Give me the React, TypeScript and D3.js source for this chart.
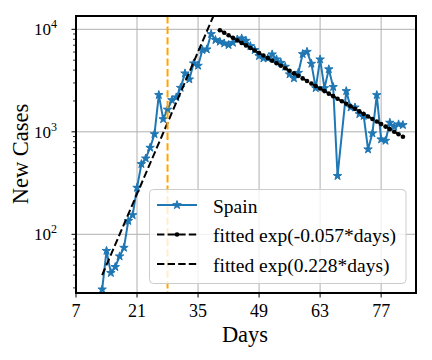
import React from 'react';
import * as d3 from 'd3';

// ---- data ----
const spainDays = [
  13, 14, 15, 16, 17, 18, 19, 20, 21, 22, 23, 24, 25, 26, 27, 28, 29, 30, 31, 32,
  33, 34, 35, 36, 37, 38, 39, 40, 41, 42, 43, 44, 45, 46, 47, 48, 49, 50, 51, 52,
  53, 54, 55, 56, 57, 58, 59, 60, 61, 62, 63, 64, 65, 66, 67, 69, 70, 71, 72, 73,
  74, 75, 76, 77, 78, 79, 80, 81, 82,
];
const spainCases = [
  29, 69, 42, 48, 61, 74, 135, 154, 285, 485, 550, 700, 950, 2290, 1330, 1650, 2040, 2170, 2690, 3720,
  3250, 4660, 4420, 6290, 6380, 9000, 7870, 7570, 7300, 7030, 7400, 7980, 8170, 7740, 6870, 6280, 5490, 5210, 5210, 5700,
  5100, 4720, 4320, 3640, 3330, 3770, 5740, 6040, 4620, 2670, 5090, 2670, 4080, 2740, 371, 2500, 1730, 1730, 1490, 1430,
  675, 966, 2285, 845, 819, 1228, 1122, 1184, 1165,
];
// fitted models (rate per day, amplitude, day range)
const decayRate = -0.057;
const decayAmp = 95860;
const decayDays = [40, 82];
const growthRate = 0.228;
const growthAmp = 2.065;
const growthDays = [13, 40];
const markerDay = 28;
const xTicks = [7, 21, 35, 49, 63, 77];
const yMajor = [2, 3, 4];
const legendLabels = ['Spain', 'fitted exp(-0.057*days)', 'fitted exp(0.228*days)'];

const W = 432, H = 360;
const L = 76, R = 416, T = 16, B = 293;
const FONT = '"Liberation Serif", "DejaVu Serif", serif';
const BLUE = '#1f77b4';

export default function App() {
  const x = d3.scaleLinear().domain([7, 85]).range([L, R]);
  const y = d3.scaleLog().domain([26.75, 13490]).range([B, T]);

  const spain = spainDays.map((d, i) => [d, spainCases[i]] as [number, number]);
  const decay = d3.range(decayDays[0], decayDays[1] + 1).map(d => [d, decayAmp * Math.exp(decayRate * d)] as [number, number]);
  const growth = d3.range(growthDays[0], growthDays[1] + 0.5, 0.5).map(d => [d, growthAmp * Math.exp(growthRate * d)] as [number, number]);

  const line = d3.line<[number, number]>().x(d => x(d[0])).y(d => y(d[1]));
  const star = d3.symbol().type(d3.symbolStar).size(22)() as string;

  const minor: number[] = [];
  for (let e = 1; e <= 4; e++) for (let m = 2; m <= 9; m++) {
    const v = m * Math.pow(10, e);
    if (v >= 26.75 && v <= 13490) minor.push(v);
  }

  const lgX = 149.5, lgY = 189.5, lgW = 256.5, lgH = 94;
  const rows = [205, 234.5, 264];

  return (
    <svg width={W} height={H} style={{ position: 'absolute', left: 0, top: 0 }} fontFamily={FONT}>
      <rect x={0} y={0} width={W} height={H} fill="#fff" />
      <defs>
        <clipPath id="plot"><rect x={L} y={T} width={R - L} height={B - T} /></clipPath>
      </defs>
      {/* grid */}
      {xTicks.map(t => (
        <line key={'gx' + t} x1={x(t)} x2={x(t)} y1={T} y2={B} stroke="#b0b0b0" strokeWidth={1} />
      ))}
      {yMajor.map(e => (
        <line key={'gy' + e} x1={L} x2={R} y1={y(Math.pow(10, e))} y2={y(Math.pow(10, e))} stroke="#b0b0b0" strokeWidth={1} />
      ))}
      <g clipPath="url(#plot)">
        <path d={line(spain) as string} fill="none" stroke={BLUE} strokeWidth={2} strokeLinejoin="round" />
        {spain.map((d, i) => (
          <path key={'s' + i} d={star} transform={`translate(${x(d[0])},${y(d[1])})`} fill={BLUE} stroke={BLUE} strokeWidth={1} />
        ))}
        <path d={line(decay) as string} fill="none" stroke="#000" strokeWidth={2} strokeDasharray="7.4,3.2" />
        {decay.map((d, i) => (
          <circle key={'d' + i} cx={x(d[0])} cy={y(d[1])} r={2.3} fill="#000" />
        ))}
        <path d={line(growth) as string} fill="none" stroke="#000" strokeWidth={2} strokeDasharray="7.4,3.2" />
        <line x1={x(markerDay)} x2={x(markerDay)} y1={T} y2={B} stroke="orange" strokeWidth={2} strokeDasharray="7.4,3.2" />
      </g>
      {/* legend */}
      <rect x={lgX} y={lgY} width={lgW} height={lgH} rx={4} fill="#fff" fillOpacity={0.8} stroke="#cccccc" strokeWidth={1} />
      <line x1={157} x2={197} y1={rows[0]} y2={rows[0]} stroke={BLUE} strokeWidth={2} />
      <path d={star} transform={`translate(177,${rows[0]})`} fill={BLUE} stroke={BLUE} strokeWidth={1} />
      <line x1={157} x2={197} y1={rows[1]} y2={rows[1]} stroke="#000" strokeWidth={2} strokeDasharray="7.4,3.2" />
      <circle cx={177} cy={rows[1]} r={2.3} fill="#000" />
      <line x1={157} x2={197} y1={rows[2]} y2={rows[2]} stroke="#000" strokeWidth={2} strokeDasharray="7.4,3.2" />
      {legendLabels.map((t, i) => (
        <text key={'lt' + i} x={213} y={rows[i] + 7.5} fontSize={19.5} fill="#000">{t}</text>
      ))}
      {/* spines */}
      <rect x={L} y={T} width={R - L} height={B - T} fill="none" stroke="#000" strokeWidth={2} />
      {/* x ticks */}
      {xTicks.map(t => (
        <g key={'xt' + t}>
          <line x1={x(t)} x2={x(t)} y1={B} y2={B + 4.5} stroke="#000" strokeWidth={1} />
          <text x={x(t)} y={316.5} textAnchor="middle" fontSize={18}>{t}</text>
        </g>
      ))}
      {/* y ticks */}
      {yMajor.map(e => (
        <g key={'yt' + e}>
          <line x1={L - 4.5} x2={L} y1={y(Math.pow(10, e))} y2={y(Math.pow(10, e))} stroke="#000" strokeWidth={1} />
          <text x={57} y={y(Math.pow(10, e)) + 6} textAnchor="end" fontSize={17}>
            10<tspan dy={-7} fontSize={12}>{e}</tspan>
          </text>
        </g>
      ))}
      {minor.map(v => (
        <line key={'ym' + v} x1={L - 3} x2={L} y1={y(v)} y2={y(v)} stroke="#000" strokeWidth={0.8} />
      ))}
      <text x={245} y={341.5} textAnchor="middle" fontSize={22.5}>Days</text>
      <text transform={`translate(28,154) rotate(-90)`} textAnchor="middle" fontSize={22.5}>New Cases</text>
    </svg>
  );
}
